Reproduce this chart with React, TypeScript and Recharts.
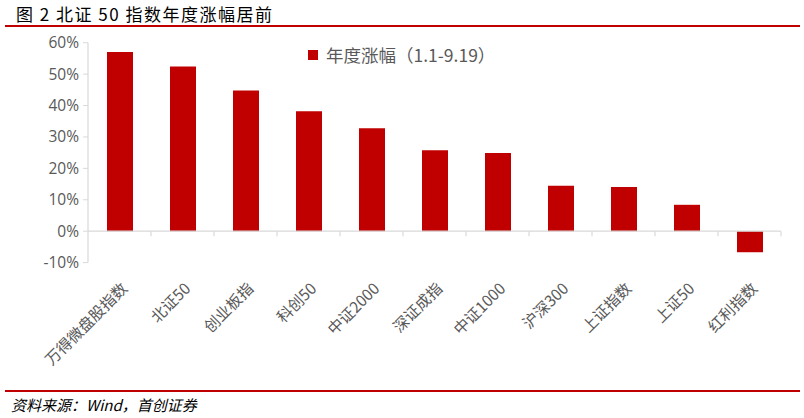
import React from "react";
import { BarChart, Bar, XAxis, YAxis, Legend, ReferenceLine } from "recharts";

const categories = [
  "万得微盘股指数",
  "北证50",
  "创业板指",
  "科创50",
  "中证2000",
  "深证成指",
  "中证1000",
  "沪深300",
  "上证指数",
  "上证50",
  "红利指数",
];
const ytdGain = [0.57, 0.524, 0.448, 0.382, 0.328, 0.258, 0.249, 0.145, 0.141, 0.084, -0.067];
const yTicks = [-0.1, 0, 0.1, 0.2, 0.3, 0.4, 0.5, 0.6];

const seriesName = "年度涨幅（1.1-9.19）";
const red = "#c00000";
const grey = "#595959";
const axisGrey = "#d9d9d9";
const cjk = "'Noto Sans CJK SC', 'Noto Sans', sans-serif";

const rows = categories.map((name, i) => ({ name, value: ytdGain[i] }));

function pct(v: number) {
  return `${Math.round(v * 100)}%`;
}

function ZeroLine(props: any) {
  const { x1, x2, y1 } = props;
  const n = categories.length;
  const step = (x2 - x1) / n;
  return (
    <g>
      <line x1={x1} x2={x2} y1={y1} y2={y1} stroke={axisGrey} strokeWidth={1.2} />
      {categories.map((_, i) => (
        <line
          key={i}
          x1={x1 + step * (i + 1)}
          x2={x1 + step * (i + 1)}
          y1={y1}
          y2={y1 + 5}
          stroke={axisGrey}
          strokeWidth={1.2}
        />
      ))}
    </g>
  );
}

function SlantTick(props: any) {
  const { x, y, payload } = props;
  const ax = x + 9;
  const ay = y + 19;
  return (
    <text
      x={ax}
      y={ay}
      transform={`rotate(-45, ${ax}, ${ay})`}
      textAnchor="end"
      fill={grey}
      fontSize={15.5}
      fontFamily={cjk}
    >
      {payload.value}
    </text>
  );
}

function LegendBox() {
  return (
    <div style={{ display: "flex", alignItems: "center", fontSize: 17.5, fontFamily: cjk, color: grey }}>
      <span style={{ display: "inline-block", width: 10, height: 10, background: red, marginRight: 8 }} />
      <span>{seriesName}</span>
    </div>
  );
}

export default function App() {
  return (
    <div style={{ position: "fixed", left: 0, top: 0, width: 804, height: 418, background: "#fff" }}>
      <div
        style={{
          position: "absolute",
          left: 16,
          top: 1,
          fontSize: 17,
          fontFamily: "'Noto Sans CJK SC', sans-serif",
          color: "#000",
          letterSpacing: 1.5,
          whiteSpace: "pre",
        }}
      >
        图 2 北证 50 指数年度涨幅居前
      </div>
      <div style={{ position: "absolute", left: 5, top: 25, width: 795, height: 2, background: red }} />

      <div style={{ position: "absolute", left: 0, top: 0 }}>
        <BarChart
          width={804}
          height={390}
          data={rows}
          margin={{ top: 42.7, right: 23, left: 0, bottom: 0 }}
          barSize={26}
        >
          <YAxis
            width={88}
            domain={[-0.1, 0.6]}
            ticks={yTicks}
            tickFormatter={pct}
            axisLine={{ stroke: axisGrey, strokeWidth: 1.2 }}
            tickLine={{ stroke: axisGrey }}
            tickSize={5}
            tickMargin={4}
            tick={{ fill: grey, fontSize: 15.5, fontFamily: "'Open Sans', sans-serif" }}
          />
          <XAxis
            dataKey="name"
            height={127.4}
            interval={0}
            axisLine={false}
            tickLine={false}
            tick={<SlantTick />}
          />
          <Legend
            verticalAlign="middle"
            align="center"
            layout="horizontal"
            content={<LegendBox />}
            wrapperStyle={{ top: 42, left: 308, width: 240 }}
          />
          <Bar dataKey="value" name={seriesName} fill={red} isAnimationActive={false} />
          <ReferenceLine y={0} shape={<ZeroLine />} />
        </BarChart>
      </div>

      <div style={{ position: "absolute", left: 5, top: 390, width: 795, height: 2, background: red }} />
      <div
        style={{
          position: "absolute",
          left: 11,
          top: 394,
          fontSize: 15,
          fontStyle: "italic",
          fontFamily: "'Noto Sans CJK SC', sans-serif",
          color: "#000",
        }}
      >
        资料来源：Wind，首创证券
      </div>
    </div>
  );
}
